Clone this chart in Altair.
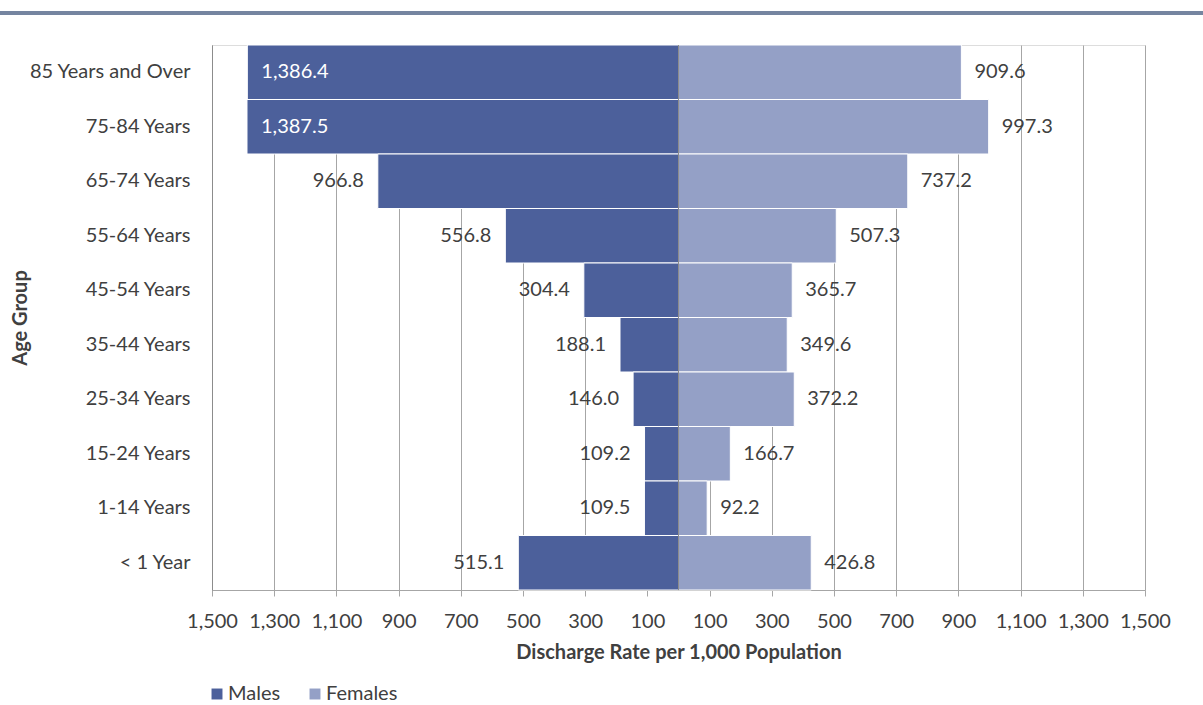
import altair as alt
import pandas as pd

# Hospital discharge rates per 1,000 population, by age group and sex
age_groups = [
    "85 Years and Over", "75-84 Years", "65-74 Years", "55-64 Years",
    "45-54 Years", "35-44 Years", "25-34 Years", "15-24 Years",
    "1-14 Years", "< 1 Year",
]
males = [1386.4, 1387.5, 966.8, 556.8, 304.4, 188.1, 146.0, 109.2, 109.5, 515.1]
females = [909.6, 997.3, 737.2, 507.3, 365.7, 349.6, 372.2, 166.7, 92.2, 426.8]
sexes = ["Males", "Females"]
colors = ["#4C609B", "#94A0C6"]
tick_values = [-1500, -1300, -1100, -900, -700, -500, -300, -100,
               100, 300, 500, 700, 900, 1100, 1300, 1500]

rows = []
for age, m, f in zip(age_groups, males, females):
    rows.append({"age": age, "sex": "Males", "value": m, "signed": -m})
    rows.append({"age": age, "sex": "Females", "value": f, "signed": f})
df = pd.DataFrame(rows)

FONT = "Lato"
FS = 20
TEXT = "#404040"
W, H = 933, 545

base = alt.Chart(df)

y_enc = alt.Y(
    "age:N", sort=age_groups,
    scale=alt.Scale(paddingInner=0, paddingOuter=0),
    axis=alt.Axis(
        title="Age Group", titleFont=FONT, titleFontSize=FS, titleFontWeight="bold",
        titleColor=TEXT, titleX=-192, titleY=H / 2, titleAngle=-90,
        titleAlign="center", titleBaseline="middle",
        labelFont=FONT, labelFontSize=FS, labelColor=TEXT, labelPadding=22,
        ticks=False, domainColor="#8C8C8C", grid=False,
    ),
)

x_enc = alt.X(
    "signed:Q",
    scale=alt.Scale(domain=[-1500, 1500], nice=False, zero=False),
    axis=alt.Axis(
        values=tick_values, labelOverlap=False, labelFlush=False,
        labelExpr="format(abs(datum.value), ',')",
        title="Discharge Rate per 1,000 Population", titleFont=FONT,
        titleFontSize=FS, titleFontWeight="bold", titleColor=TEXT,
        titleY=62, titleBaseline="middle",
        labelFont=FONT, labelFontSize=FS, labelColor=TEXT, labelPadding=15,
        tickSize=6, tickColor="#A6A6A6", domainColor="#A6A6A6",
        grid=True, gridColor="#A6A6A6", gridWidth=1,
    ),
)

bars = base.mark_bar(stroke="white", strokeWidth=1).encode(
    x=x_enc,
    y=y_enc,
    color=alt.Color(
        "sex:N",
        scale=alt.Scale(domain=sexes, range=colors),
        legend=alt.Legend(
            title=None, orient="none", legendX=-5, legendY=639,
            direction="horizontal", symbolType="square", symbolSize=120,
            symbolStrokeWidth=0, labelFont=FONT, labelFontSize=FS,
            labelColor=TEXT, columnPadding=24, labelOffset=1,
        ),
    ),
)

zero_line = alt.Chart(pd.DataFrame({"x": [0]})).mark_rule(
    color="#8C8C8C", strokeWidth=1
).encode(x="x:Q")

# Male labels: outside the bar end, or inside it when the bar is too long
male_out = base.transform_filter(
    "datum.sex == 'Males' && datum.value < 1300"
).mark_text(
    align="right", baseline="middle", dx=-14, font=FONT, fontSize=FS, color=TEXT
).encode(x="signed:Q", y=alt.Y("age:N", sort=age_groups),
         text=alt.Text("value:Q", format=",.1f"))

male_in = base.transform_filter(
    "datum.sex == 'Males' && datum.value >= 1300"
).mark_text(
    align="left", baseline="middle", dx=14, font=FONT, fontSize=FS, color="white"
).encode(x="signed:Q", y=alt.Y("age:N", sort=age_groups),
         text=alt.Text("value:Q", format=",.1f"))

female_lbl = base.transform_filter("datum.sex == 'Females'").mark_text(
    align="left", baseline="middle", dx=13, font=FONT, fontSize=FS, color=TEXT
).encode(x="signed:Q", y=alt.Y("age:N", sort=age_groups),
         text=alt.Text("value:Q", format=",.1f"))

# Header band across the top of the page
header = alt.Chart(pd.DataFrame({"k": [0]})).mark_rule(
    color="#7585A0", strokeWidth=4
).encode(x=alt.value(-212), x2=alt.value(991), y=alt.value(-32))

chart = alt.layer(bars, zero_line, male_out, male_in, female_lbl, header).properties(
    width=W, height=H,
    autosize=alt.AutoSizeParams(type="none"),
    padding={"left": 212, "top": 45, "right": 58, "bottom": 115},
).configure_view(stroke=None).configure(background="white")

chart.save("out.html", embed_options={"renderer": "svg", "actions": False})
